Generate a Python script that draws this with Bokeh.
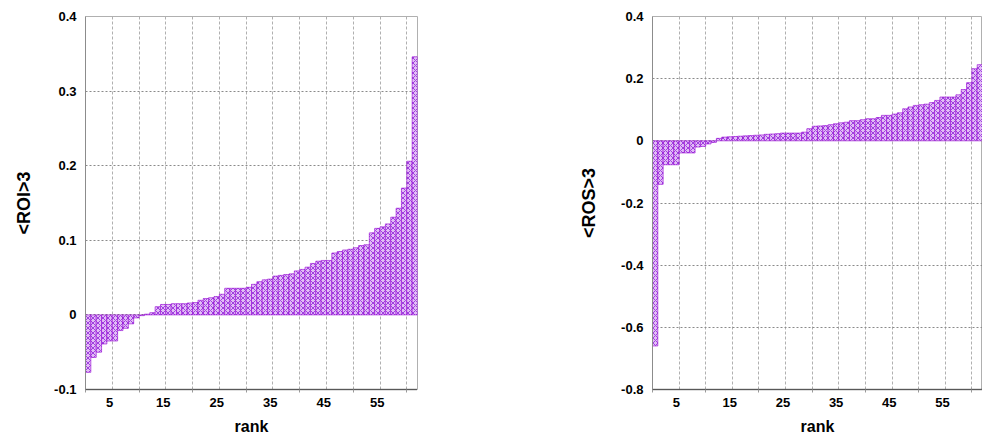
from bokeh.plotting import figure
from bokeh.layouts import row
from bokeh.models import Range1d, FixedTicker
from bokeh.embed import file_html
from bokeh.resources import INLINE

# ---- data (sorted values by rank) ----
ranks = list(range(1, 63))
roi3 = [-0.077, -0.057, -0.050, -0.039, -0.035, -0.035, -0.021, -0.018, -0.012, -0.004,
        -0.001, 0.001, 0.003, 0.011, 0.014, 0.014, 0.015, 0.015, 0.015, 0.016,
        0.0165, 0.0196, 0.022, 0.023, 0.0245, 0.0277, 0.0357, 0.0357, 0.0357, 0.0357,
        0.037, 0.041, 0.0445, 0.047, 0.048, 0.052, 0.053, 0.054, 0.055, 0.059,
        0.061, 0.064, 0.069, 0.072, 0.073, 0.073, 0.083, 0.085, 0.087, 0.088,
        0.090, 0.093, 0.094, 0.110, 0.116, 0.118, 0.122, 0.131, 0.143, 0.170,
        0.206, 0.346]
ros3 = [-0.660, -0.140, -0.077, -0.077, -0.077, -0.039, -0.039, -0.039, -0.020, -0.018,
        -0.010, -0.005, 0.008, 0.012, 0.013, 0.014, 0.015, 0.016, 0.017, 0.018,
        0.019, 0.021, 0.022, 0.023, 0.025, 0.025, 0.025, 0.025, 0.028, 0.039,
        0.047, 0.048, 0.049, 0.052, 0.055, 0.058, 0.060, 0.065, 0.065, 0.068,
        0.071, 0.071, 0.075, 0.082, 0.082, 0.086, 0.090, 0.103, 0.109, 0.114,
        0.116, 0.118, 0.123, 0.130, 0.141, 0.141, 0.141, 0.148, 0.165, 0.187,
        0.232, 0.245]

x_tick_ranks = [5, 15, 25, 35, 45, 55]
x_tick_labels = ["5", "15", "25", "35", "45", "55"]
x_grid_ranks = [5, 10, 15, 20, 25, 30, 35, 40, 45, 50, 55, 60]
x_minor_ranks = [0, 10, 20, 30, 40, 50, 60]

roi_ticks = [-0.1, 0.0, 0.1, 0.2, 0.3, 0.4]
roi_labels = ["-0.1", "0", "0.1", "0.2", "0.3", "0.4"]
ros_ticks = [-0.8, -0.6, -0.4, -0.2, 0.0, 0.2, 0.4]
ros_labels = ["-0.8", "-0.6", "-0.4", "-0.2", "0", "0.2", "0.4"]

FONT = "Liberation Sans"


def make(values, ylabel, ymin, ymax, yticks, ylabels, width, height,
         bl, br, bt, bb, ylab_standoff, xlab_standoff):
    p = figure(width=width, height=height, output_backend="svg", toolbar_location=None,
               x_range=Range1d(0, len(ranks)), y_range=Range1d(ymin, ymax),
               min_border_left=bl, min_border_right=br, min_border_top=bt,
               min_border_bottom=bb)
    xs = [r - 0.5 for r in ranks]
    p.vbar(x=xs, top=values, bottom=0, width=1.0,
           fill_color="#e2bdf5", line_color="#9400d3", line_width=0.6,
           hatch_pattern="x", hatch_color="#a040e0", hatch_scale=5, hatch_weight=1)

    centers = [r - 0.5 for r in x_tick_ranks]
    p.xaxis.ticker = FixedTicker(ticks=centers, minor_ticks=x_minor_ranks)
    p.xaxis.major_label_overrides = {c: l for c, l in zip(centers, x_tick_labels)}
    p.xaxis.major_tick_line_color = None
    p.xaxis.major_tick_out = 0
    p.xaxis.major_tick_in = 0
    p.xaxis.minor_tick_line_color = "#999999"
    p.xaxis.minor_tick_out = 3
    p.xaxis.minor_tick_in = 0
    p.xaxis.axis_line_color = "black"
    p.xaxis.axis_line_dash = "1 1"
    p.xaxis.axis_line_width = 1.5
    p.xaxis.axis_label = "rank"
    p.xaxis.major_label_standoff = 5
    p.xaxis.axis_label_standoff = xlab_standoff

    p.yaxis.ticker = FixedTicker(ticks=yticks, minor_ticks=[])
    p.yaxis.major_label_overrides = {t: l for t, l in zip(yticks, ylabels)}
    p.yaxis.major_tick_line_color = None
    p.yaxis.major_tick_out = 0
    p.yaxis.major_tick_in = 0
    p.yaxis.minor_tick_line_color = None
    p.yaxis.minor_tick_out = 0
    p.yaxis.axis_line_color = "#8c8c8c"
    p.yaxis.axis_label = ylabel
    p.yaxis.major_label_standoff = 9
    p.yaxis.axis_label_standoff = ylab_standoff

    for ax in (p.xaxis, p.yaxis):
        ax.major_label_text_font = FONT
        ax.major_label_text_font_style = "bold"
        ax.major_label_text_font_size = "13px"
        ax.major_label_text_color = "black"
        ax.axis_label_text_font = FONT
        ax.axis_label_text_font_style = "bold"
        ax.axis_label_text_color = "black"
    p.xaxis.axis_label_text_font_size = "16px"
    p.yaxis.axis_label_text_font_size = "18px"

    p.xgrid.ticker = FixedTicker(ticks=x_grid_ranks)
    p.xgrid.grid_line_color = "#b0b0b0"
    p.xgrid.grid_line_dash = "3 2"
    p.ygrid.grid_line_color = "#8a8a8a"
    p.ygrid.grid_line_dash = "2 2"

    p.outline_line_color = "#b0b0b0"
    p.background_fill_color = "white"
    p.border_fill_color = "white"
    return p


p1 = make(roi3, "<ROI>3", -0.1, 0.4, roi_ticks, roi_labels,
          width=560, height=440, bl=85, br=143, bt=16, bb=51,
          ylab_standoff=17, xlab_standoff=8)
p2 = make(ros3, "<ROS>3", -0.8, 0.4, ros_ticks, ros_labels,
          width=422, height=440, bl=92, br=0, bt=16, bb=51,
          ylab_standoff=19, xlab_standoff=8)

layout = row(p1, p2)
open("out.html", "w").write(file_html(layout, INLINE))
